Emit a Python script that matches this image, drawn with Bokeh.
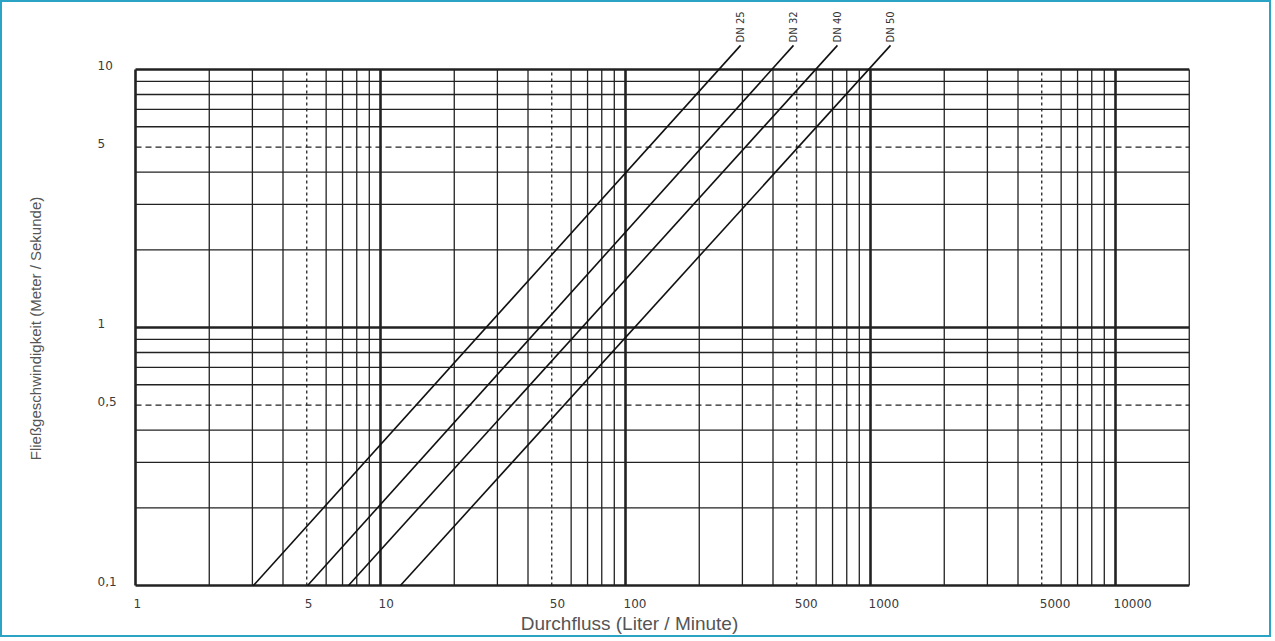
import math
from bokeh.plotting import figure
from bokeh.models import Range1d, Label, ColumnDataSource
from bokeh.core.properties import value
from bokeh.embed import file_html
from bokeh.resources import INLINE

# ---------------- data ----------------
x_major = [1, 10, 100, 1000, 10000]
x_dashed = [5, 50, 500, 5000]
x_minor_mult = [2, 3, 4, 6, 7, 8, 9]
x_minor = [m * d for d in [1, 10, 100, 1000] for m in x_minor_mult] + [20000]

y_major = [0.1, 1, 10]
y_dashed = [0.5, 5]
y_minor_mult = [2, 3, 4, 6, 7, 8, 9]
y_minor = [m * d for d in [0.1, 1] for m in y_minor_mult]

x_min, x_max = 1, 20000
y_min, y_max = 0.1, 10

x_tick_vals = [1, 5, 10, 50, 100, 500, 1000, 5000, 10000]
x_tick_labels = ["1", "5", "10", "50", "100", "500", "1000", "5000", "10000"]
y_tick_vals = [10, 5, 1, 0.5, 0.1]
y_tick_labels = ["10", "5", "1", "0,5", "0,1"]

dn_labels = ["DN 25", "DN 32", "DN 40", "DN 50"]
dn_q_low = [3.03, 5.04, 7.40, 12.06]      # flow at v = 0.1 m/s
dn_q_high = [295, 485, 733, 1207]         # flow at line end (above grid)
dn_v_low = [0.1, 0.1, 0.1, 0.1]
dn_v_high = [12.4, 12.4, 12.4, 12.4]

x_title = "Durchfluss (Liter / Minute)"
y_title = "Fließgeschwindigkeit (Meter / Sekunde)"

# ---------------- layout ----------------
W, H = 1271, 637
X0_PX, XDEC = 135, 245.0   # canvas px of x=1, px per decade
Y10_PX, YDEC = 69, 258.0   # canvas px of y=10, px per decade

x_start = 10 ** (-X0_PX / XDEC)
x_end = 10 ** ((W - X0_PX) / XDEC)
y_top = 10 ** (1 + Y10_PX / YDEC)
y_bottom = 10 ** (1 - (H - Y10_PX) / YDEC)

p = figure(width=W, height=H, x_axis_type="log", y_axis_type="log",
           x_range=Range1d(x_start, x_end), y_range=Range1d(y_bottom, y_top),
           x_axis_location=None, y_axis_location=None,
           toolbar_location=None, output_backend="svg", min_border=0,
           background_fill_color="white", border_fill_color="white")
p.grid.visible = False
p.outline_line_color = "#2ba3c4"
p.outline_line_width = 3

GRID = "#222222"

def vlines(xs, **kw):
    src = ColumnDataSource(dict(x=xs, y0=[y_min] * len(xs), y1=[y_max] * len(xs)))
    p.segment(x0="x", y0="y0", x1="x", y1="y1", source=src, line_color=GRID, **kw)

def hlines(ys, **kw):
    src = ColumnDataSource(dict(y=ys, x0=[x_min] * len(ys), x1=[x_max] * len(ys)))
    p.segment(x0="x0", y0="y", x1="x1", y1="y", source=src, line_color=GRID, **kw)

vlines(x_minor, line_width=1.3)
hlines(y_minor, line_width=1.3)
vlines(x_dashed, line_width=1.3, line_dash="3 3")
hlines(y_dashed, line_width=1.4, line_dash="6 4")
vlines(x_major, line_width=2.6)
hlines(y_major, line_width=2.6)

# pipe lines
dn_src = ColumnDataSource(dict(q0=dn_q_low, v0=dn_v_low, q1=dn_q_high, v1=dn_v_high, lab=dn_labels))
p.segment(x0="q0", y0="v0", x1="q1", y1="v1", source=dn_src, line_color="#111111", line_width=1.6)
p.text(x="q1", y="v1", text="lab", source=dn_src, angle=math.pi / 2,
       text_align="left", text_baseline="middle", y_offset=-3,
       text_font=value("DejaVu Sans"), text_font_size="10px", text_color="#333333")

# tick labels
xt_src = ColumnDataSource(dict(x=x_tick_vals, y=[y_min] * len(x_tick_vals), t=x_tick_labels))
p.text(x="x", y="y", text="t", source=xt_src, text_align="left", text_baseline="middle",
       x_offset=-2, y_offset=18, text_font=value("DejaVu Sans"), text_font_size="12px",
       text_color="#3a3a3a")
yt_src = ColumnDataSource(dict(x=[x_min] * len(y_tick_vals), y=y_tick_vals, t=y_tick_labels))
p.text(x="x", y="y", text="t", source=yt_src, text_align="left", text_baseline="middle",
       x_offset=-38, y_offset=-4, text_font=value("DejaVu Sans"), text_font_size="12px",
       text_color="#3a3a3a")

# axis titles
p.add_layout(Label(x=629, y=H - 623, x_units="screen", y_units="screen", text=x_title,
                   text_align="center", text_baseline="middle", text_font="Liberation Sans",
                   text_font_size="19px", text_color="#555555"))
p.add_layout(Label(x=35, y=H - 328, x_units="screen", y_units="screen", text=y_title,
                   angle=math.pi / 2, text_align="center", text_baseline="middle",
                   text_font="Liberation Sans", text_font_size="15px", text_color="#555555"))

open("out.html", "w").write(file_html(p, INLINE))
